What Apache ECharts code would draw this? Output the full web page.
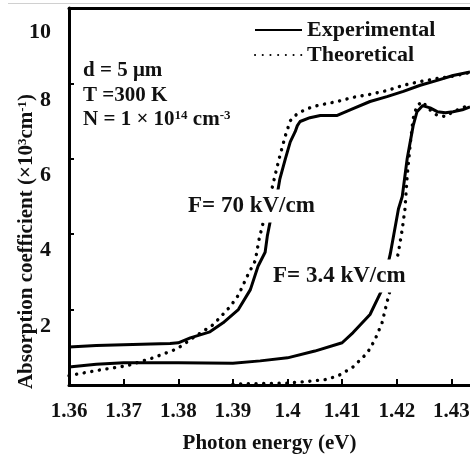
<!DOCTYPE html>
<html>
<head>
<meta charset="utf-8">
<script src="https://cdn.jsdelivr.net/npm/echarts@6/dist/echarts.min.js"></script>
<style>
  html, body { margin: 0; padding: 0; background: #fff; }
  #chart { width: 470px; height: 456px; }
</style>
</head>
<body>
<div id="chart"></div>
<script>
// photon energy (eV) vs absorption coefficient (x10^3 cm^-1)
const expF70X = [1.3600, 1.3650, 1.3700, 1.3750, 1.3785, 1.3800, 1.3822, 1.3858, 1.3882, 1.3910, 1.3932, 1.3946, 1.3959, 1.3963, 1.3968, 1.3977, 1.3986, 1.3996, 1.4005, 1.4014, 1.4018, 1.4023, 1.4041, 1.4060, 1.4091, 1.4120, 1.4151, 1.4182, 1.4212, 1.4243, 1.4274, 1.4303, 1.4334];
const expF70Y = [1.01, 1.05, 1.07, 1.09, 1.10, 1.12, 1.25, 1.41, 1.65, 2.00, 2.53, 3.15, 3.52, 3.95, 4.32, 4.70, 5.47, 6.00, 6.45, 6.72, 6.88, 6.99, 7.09, 7.15, 7.15, 7.33, 7.52, 7.65, 7.79, 7.95, 8.08, 8.21, 8.30];

const thF70X = [1.3600, 1.3657, 1.3706, 1.3754, 1.3798, 1.3827, 1.3864, 1.3895, 1.3910, 1.3926, 1.3941, 1.3948, 1.3957, 1.3965, 1.3977, 1.3986, 1.3996, 1.4005, 1.4018, 1.4036, 1.4054, 1.4091, 1.4120, 1.4151, 1.4182, 1.4212, 1.4243, 1.4274, 1.4303, 1.4334];
const thF70Y = [0.25, 0.40, 0.51, 0.72, 0.96, 1.25, 1.60, 2.08, 2.38, 2.88, 3.30, 3.87, 4.40, 4.80, 5.55, 6.08, 6.61, 7.01, 7.20, 7.33, 7.41, 7.52, 7.63, 7.71, 7.81, 7.95, 8.05, 8.13, 8.19, 8.29];

const expF34X = [1.3600, 1.3650, 1.3700, 1.3800, 1.3900, 1.3950, 1.4000, 1.4050, 1.4100, 1.4120, 1.4151, 1.4173, 1.4188, 1.4203, 1.4210, 1.4219, 1.4230, 1.4237, 1.4247, 1.4261, 1.4274, 1.4289, 1.4303, 1.4320, 1.4334];
const expF34Y = [0.48, 0.55, 0.59, 0.59, 0.58, 0.64, 0.72, 0.90, 1.12, 1.39, 1.87, 2.53, 3.47, 4.67, 5.00, 6.00, 6.88, 7.25, 7.41, 7.35, 7.25, 7.22, 7.25, 7.30, 7.38];

const thF34X = [1.3900, 1.3950, 1.4000, 1.4040, 1.4073, 1.4096, 1.4120, 1.4146, 1.4160, 1.4173, 1.4182, 1.4188, 1.4203, 1.4210, 1.4215, 1.4219, 1.4225, 1.4230, 1.4237, 1.4247, 1.4258, 1.4274, 1.4289, 1.4303, 1.4325, 1.4334];
const thF34Y = [0.02, 0.04, 0.05, 0.10, 0.15, 0.27, 0.48, 0.85, 1.20, 1.65, 2.19, 2.53, 3.52, 4.13, 4.67, 5.55, 6.45, 7.07, 7.41, 7.52, 7.33, 7.15, 7.12, 7.25, 7.38, 7.40];

const xMin = 1.36, xMax = 1.4334, xStep = 0.01;
const yMin = 0, yMax = 10, yStep = 2;
const legendNames = ['Experimental', 'Theoretical'];

const serif = '"Liberation Serif", "Times New Roman", serif';
const ink = '#111';

function pairs(xs, ys) {
  return xs.map((x, i) => [x, ys[i]]);
}

const solid = { color: '#000', width: 3, join: 'round' };
const dotted = { color: '#000', width: 3.4, type: [0.1, 7.6], cap: 'round' };

const chart = echarts.init(document.getElementById('chart'));

chart.setOption({
  animation: false,
  backgroundColor: '#fff',
  grid: { left: 69, right: 0, top: 8, bottom: 71, containLabel: false, outerBoundsMode: 'none' },
  legend: {
    data: legendNames,
    orient: 'vertical',
    left: 249,
    top: 14,
    itemWidth: 47,
    itemHeight: 14,
    itemGap: 3,
    itemStyle: { opacity: 0 },
    textStyle: { fontFamily: serif, fontWeight: 'bold', fontSize: 22, color: ink, lineHeight: 22 }
  },
  xAxis: [
    {
      type: 'value',
      min: xMin, max: xMax, interval: xStep,
      name: 'Photon energy (eV)',
      nameLocation: 'middle',
      nameGap: 48,
      nameMoveOverlap: false,
      nameTextStyle: { fontFamily: serif, fontWeight: 'bold', fontSize: 21, color: ink },
      axisLine: { lineStyle: { color: '#000', width: 3 } },
      axisTick: { inside: true, length: 6, lineStyle: { color: '#000', width: 2 } },
      axisLabel: {
        margin: 16,
        showMaxLabel: false,
        fontFamily: serif, fontWeight: 'bold', fontSize: 21, color: ink,
        formatter: v => String(Number(v.toFixed(2)))
      },
      splitLine: { show: false }
    },
    {
      type: 'value',
      position: 'top',
      min: xMin, max: xMax,
      axisLine: { lineStyle: { color: '#000', width: 3 } },
      axisTick: { show: false },
      axisLabel: { show: false },
      splitLine: { show: false }
    }
  ],
  yAxis: {
    type: 'value',
    min: yMin, max: yMax, interval: yStep,
    name: 'Absorption coefficient (×10{s|3}cm{s|-1})',
    nameLocation: 'middle',
    nameRotate: 90,
    nameGap: 32,
    nameMoveOverlap: false,
    nameTextStyle: {
      fontFamily: serif, fontWeight: 'bold', fontSize: 21, color: ink,
      padding: [0, 90, 0, 0],
      rich: { s: { fontFamily: serif, fontWeight: 'bold', fontSize: 13, color: ink, verticalAlign: 'top' } }
    },
    axisLine: { show: true, lineStyle: { color: '#000', width: 3 } },
    axisTick: { inside: true, length: 5, lineStyle: { color: '#000', width: 2 } },
    axisLabel: {
      margin: 18,
      fontFamily: serif, fontWeight: 'bold', fontSize: 22, color: ink,
      formatter: v => v === 0 ? '' : (v === 10 ? '{t|10}' : '{n|' + v + '}'),
      rich: {
        n: { fontFamily: serif, fontWeight: 'bold', fontSize: 22, color: ink, padding: [33, 0, 0, 0] },
        t: { fontFamily: serif, fontWeight: 'bold', fontSize: 22, color: ink, padding: [49, 0, 0, 0] }
      }
    },
    splitLine: { show: false }
  },
  series: [
    { name: 'Experimental', type: 'line', data: pairs(expF70X, expF70Y), showSymbol: false, symbol: 'none', lineStyle: solid, itemStyle: { color: '#000' } },
    { name: 'Theoretical', type: 'line', data: pairs(thF70X, thF70Y), showSymbol: false, symbol: 'none', lineStyle: dotted, itemStyle: { color: '#000' } },
    { name: 'Experimental', type: 'line', data: pairs(expF34X, expF34Y), showSymbol: false, symbol: 'none', lineStyle: solid, itemStyle: { color: '#000' } },
    { name: 'Theoretical', type: 'line', data: pairs(thF34X, thF34Y), showSymbol: false, symbol: 'none', lineStyle: dotted, itemStyle: { color: '#000' } }
  ],
  graphic: [
    { type: 'line', z: 1, shape: { x1: 8, y1: 3.5, x2: 470, y2: 3.5 }, style: { stroke: '#d0d0d0', lineWidth: 1 } },
    { type: 'text', z: 100, x: 83, y: 71, style: { text: 'd = 5 μm', font: 'bold 21px ' + serif, fill: ink, verticalAlign: 'middle' } },
    { type: 'text', z: 100, x: 83, y: 96, style: { text: 'T =300 K', font: 'bold 21px ' + serif, fill: ink, verticalAlign: 'middle' } },
    {
      type: 'text', z: 100, x: 83, y: 120,
      style: {
        text: 'N = 1 × 10{s|14} cm{s|-3}', font: 'bold 21px ' + serif, fill: ink, verticalAlign: 'middle',
        rich: { s: { font: 'bold 13px ' + serif, fill: ink, verticalAlign: 'top' } }
      }
    },
    {
      type: 'text', z: 100, x: 186, y: 206,
      style: { text: 'F= 70 kV/cm', font: 'bold 23px ' + serif, fill: ink, verticalAlign: 'middle', backgroundColor: '#fff', padding: [5, 2, 5, 2] }
    },
    {
      type: 'text', z: 100, x: 271, y: 276,
      style: { text: 'F= 3.4 kV/cm', font: 'bold 23px ' + serif, fill: ink, verticalAlign: 'middle', backgroundColor: '#fff', padding: [5, 2, 5, 2] }
    }
  ]
});
</script>
</body>
</html>
